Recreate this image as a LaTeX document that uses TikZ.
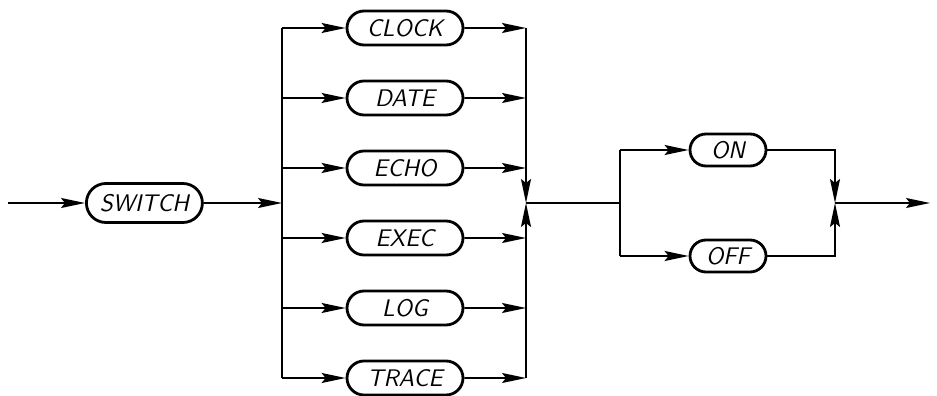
\documentclass[tikz,border=0pt]{standalone}
\usepackage{tikz}
\usetikzlibrary{shapes.misc,arrows.meta,positioning}

\begin{document}
\begin{tikzpicture}[x=1pt,y=1pt,line width=0.9pt,>={Stealth[length=12pt,width=5pt,inset=2pt]},node distance=16.6pt,
	main node/.style={draw, rounded rectangle, line width=1.4pt, minimum width=58pt, minimum height=17pt, inner sep=0pt, font=\fontsize{12}{14}\sffamily\slshape},
	small node/.style={main node, minimum width=38pt, minimum height=16pt}]
			\useasboundingbox (0,0) rectangle (468.5,198);
			
			\coordinate (s) at (4,96.5);
			\node[main node] (1) [right=38.5pt of s, minimum height=19.5pt]{SWITCH};
			
			\node[main node] (2) at (202.5,184) {CLOCK};
			\node[main node] (3) [below=of 2]{DATE};
			\node[main node] (4) [below=of 3]{ECHO};
			\node[main node] (5) [below=of 4]{EXEC};
			\node[main node] (6) [below=of 5]{LOG};
			\node[main node] (7) [below=of 6]{TRACE};
			
			\node[small node] (8) at (364,123) {ON};
			\node[small node] (9) at (364,70) {OFF};
			
			% junctions
			\coordinate (a) at (141,96.5);
			\coordinate (b) at (263,96.5);
			\coordinate (c) at (310,96.5);
			\coordinate (d) at (417.5,96.5);
			\coordinate (e) at (465,96.5);
			
			\draw[->] (s) -- (1);
			\draw[->] (1) -- (a);
			\draw (a |- 2) -- (a |- 7);
			
			\foreach \k in {2,...,7}{
				\draw[->] (a |- \k) -- (\k);
				\draw[->] (\k) -- (b |- \k);
			}
			\draw[->] (b |- 2) -- (b);
			\draw[->] (b |- 7) -- (b);
			\draw (b) -- (c);
			
			\draw (c |- 8) -- (c |- 9);
			\draw[->] (c |- 8) -- (8);
			\draw[->] (c |- 9) -- (9);
			\draw[->] (8) -| (d);
			\draw[->] (9) -| (d);
			\draw[->] (d) -- (e);
			
			\end{tikzpicture}
\end{document}
